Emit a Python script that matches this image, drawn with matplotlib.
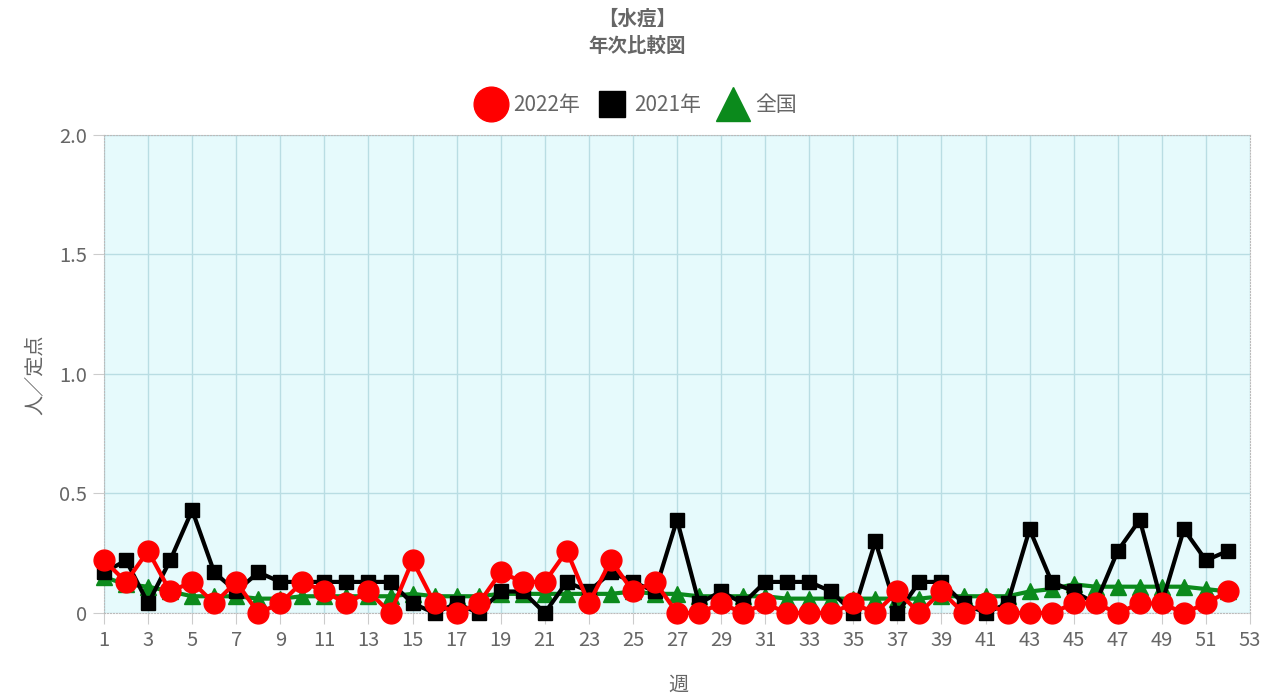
import matplotlib
matplotlib.use("Agg")
import matplotlib.pyplot as plt
from matplotlib.lines import Line2D

plt.rcParams['font.family'] = ['Noto Sans CJK JP', 'DejaVu Sans']

# 週ごとの定点当たり報告数
weeks = list(range(1, 53))
y2022 = [0.22, 0.13, 0.26, 0.09, 0.13, 0.04, 0.13, 0.00, 0.04, 0.13,
         0.09, 0.04, 0.09, 0.00, 0.22, 0.04, 0.00, 0.04, 0.17, 0.13,
         0.13, 0.26, 0.04, 0.22, 0.09, 0.13, 0.00, 0.00, 0.04, 0.00,
         0.04, 0.00, 0.00, 0.00, 0.04, 0.00, 0.09, 0.00, 0.09, 0.00,
         0.04, 0.00, 0.00, 0.00, 0.04, 0.04, 0.00, 0.04, 0.04, 0.00,
         0.04, 0.09]
y2021 = [0.17, 0.22, 0.04, 0.22, 0.43, 0.17, 0.09, 0.17, 0.13, 0.13,
         0.13, 0.13, 0.13, 0.13, 0.04, 0.00, 0.04, 0.00, 0.09, 0.09,
         0.00, 0.13, 0.09, 0.17, 0.13, 0.09, 0.39, 0.04, 0.09, 0.04,
         0.13, 0.13, 0.13, 0.09, 0.00, 0.30, 0.00, 0.13, 0.13, 0.04,
         0.00, 0.04, 0.35, 0.13, 0.09, 0.04, 0.26, 0.39, 0.04, 0.35,
         0.22, 0.26]
zenkoku = [0.15, 0.12, 0.11, 0.09, 0.07, 0.07, 0.07, 0.06, 0.06, 0.07,
           0.07, 0.07, 0.07, 0.07, 0.08, 0.07, 0.07, 0.07, 0.08, 0.08,
           0.08, 0.08, 0.08, 0.08, 0.09, 0.08, 0.08, 0.07, 0.07, 0.07,
           0.07, 0.06, 0.06, 0.06, 0.06, 0.06, 0.06, 0.06, 0.07, 0.07,
           0.07, 0.07, 0.09, 0.10, 0.12, 0.11, 0.11, 0.11, 0.11, 0.11,
           0.10, 0.09]

xticks = list(range(1, 54, 2))
yticks = [0, 0.5, 1.0, 1.5, 2.0]
ytick_labels = ['0', '0.5', '1.0', '1.5', '2.0']

gray = '#666666'

fig = plt.figure(figsize=(12.75, 7), dpi=100)
ax = fig.add_axes([0.0816, 0.1243, 0.8988, 0.683])
ax.set_facecolor('#e6fafc')

ax.plot(weeks, zenkoku, color='#0b8a1c', lw=3, marker='^', markersize=11,
        zorder=3, clip_on=False)
ax.plot(weeks, y2021, color='black', lw=3, marker='s', markersize=10,
        zorder=4, clip_on=False)
ax.plot(weeks, y2022, color='#ff0000', lw=3, marker='o', markersize=15,
        zorder=5, clip_on=False)

ax.set_xlim(1, 53)
ax.set_ylim(0, 2.0)
ax.set_xticks(xticks)
ax.set_yticks(yticks)
ax.set_yticklabels(ytick_labels)
ax.tick_params(colors='#cccccc', labelcolor=gray, labelsize=14.5, length=8, pad=4)
ax.grid(True, color='#b9dde3', lw=1, zorder=0)
for s in ax.spines.values():
    s.set_color('#bbbbbb')
    s.set_linestyle(':')

# タイトル
fig.text(0.5, 1 - 19 / 700, '【水痘】', ha='center', va='center',
         fontsize=14, fontweight='bold', color=gray)
fig.text(0.5, 1 - 46 / 700, '年次比較図', ha='center', va='center',
         fontsize=14, fontweight='bold', color=gray)

# 凡例
handles = [
    Line2D([], [], ls='none', marker='o', color='#ff0000', markersize=25),
    Line2D([], [], ls='none', marker='s', color='black', markersize=19),
    Line2D([], [], ls='none', marker='^', color='#0b8a1c', markersize=25),
]
fig.legend(handles, ['2022年', '2021年', '全国'], loc='center',
           bbox_to_anchor=(0.498, 1 - 105 / 700), ncol=3, frameon=False,
           fontsize=15, labelcolor=gray, handlelength=1.7, handletextpad=0.2,
           columnspacing=0.7)

fig.text(35 / 1275, 1 - 375 / 700, '人／定点', rotation=90, ha='center',
         va='center', fontsize=14.5, color=gray)
fig.text(678 / 1275, 1 - 685 / 700, '週', ha='center', va='center',
         fontsize=14.5, color=gray)

fig.savefig('out.png', dpi=100)
